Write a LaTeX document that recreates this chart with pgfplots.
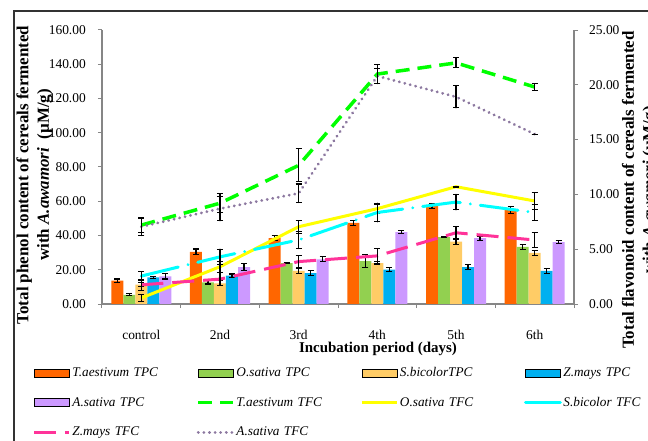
\documentclass[border=0pt]{standalone}
\usepackage{pgfplots}
\pgfplotsset{compat=1.18}
\usepackage{fontspec}
\setmainfont{Liberation Serif}
\definecolor{cA}{HTML}{FF6600}
\definecolor{cB}{HTML}{92D050}
\definecolor{cC}{HTML}{FFCC66}
\definecolor{cD}{HTML}{00B0F0}
\definecolor{cE}{HTML}{CC99FF}
\definecolor{lG}{HTML}{00FF00}
\definecolor{lY}{HTML}{FFFF00}
\definecolor{lC}{HTML}{00FFFF}
\definecolor{lP}{HTML}{FF3399}
\definecolor{lV}{RGB}{140,120,160}
\definecolor{axgray}{HTML}{868686}
\pgfplotsset{
  barleg/.style={legend image code/.code={\fill[##1] (0bp,-4bp) rectangle (35bp,4bp);}},
  lineleg/.style={legend image code/.code={\draw[##1] (0bp,0bp) -- (35bp,0bp);}},
  ebar/.style={error bars/.cd, y dir=both, y explicit,
    error bar style={black, line width=1.1bp, solid},
    error mark options={rotate=90, black, mark size=3bp, line width=1.1bp, solid}},
  common/.style={at={(0,0)}, anchor=south west, scale only axis,
    width=472bp, height=274bp, xmin=-0.5, xmax=5.5,
    axis line style={draw=axgray, line width=1.3bp, -},
    tick align=outside, major tick length=4bp, minor tick length=4bp,
    tick style={draw=axgray, line width=1bp},
    /pgf/number format/assume math mode=true,
    tick label style={font=\fontsize{13.5}{15}\selectfont},
    scaled y ticks=false,
    yticklabel style={/pgf/number format/fixed, /pgf/number format/fixed zerofill, /pgf/number format/precision=2},
    ylabel style={align=center, font=\bfseries\fontsize{17}{20.5}\selectfont, anchor=center}},
}
\begin{document}
\begin{tikzpicture}
\useasboundingbox (-102bp,-137bp) rectangle (546bp,304bp);
\draw[line width=1.2bp, color=black!80] (-88bp,-150bp) -- (-88bp,293bp) -- (560bp,293bp);
\begin{axis}[common,
  ymin=0, ymax=160, ytick={0,20,...,160},
  axis y line*=left, axis x line*=bottom,
  xtick={0,...,5}, xticklabels={control,2nd,3rd,4th,5th,6th},
  minor xtick={-0.5,0.5,1.5,2.5,3.5,4.5,5.5},
  major x tick style={draw=none},
  xticklabel style={anchor=base, inner sep=0pt, yshift=-31bp},
  yticklabel style={anchor=east, inner sep=0pt, xshift=-12bp},
  ybar=0pt, bar width=12bp,
  xlabel={Incubation period (days)},
  xlabel style={at={(axis description cs:0.5847,0)}, anchor=base, yshift=-48bp, font=\bfseries\fontsize{15}{17}\selectfont},
  ylabel={Total phenol content of cereals fermented\\ with \textit{A.awamori}\ \ (µM/g)},
  ylabel style={at={(axis description cs:-0.143,0.471)}},
]
\addplot[fill=cA, draw=none, ebar] coordinates {(0,13.6) +- (0,1.0) (1,30.4) +- (0,1.7) (2,38.5) +- (0,1.5) (3,47.3) +- (0,1.5) (4,57.2) +- (0,1.3) (5,54.9) +- (0,2.2)};
\addplot[fill=cB, draw=none, ebar] coordinates {(0,5.4) +- (0,0.6) (1,12.7) +- (0,1.0) (2,23.9) +- (0,0.5) (3,25.1) +- (0,4.0) (4,39.1) +- (0,0.5) (5,33.3) +- (0,1.5)};
\addplot[fill=cC, draw=none, ebar] coordinates {(0,11.3) +- (0,1.2) (1,12.1) +- (0,1.5) (2,19.3) +- (0,1.5) (3,23.9) +- (0,1.0) (4,36.4) +- (0,1.5) (5,29.8) +- (0,1.4)};
\addplot[fill=cD, draw=none, ebar] coordinates {(0,15.5) +- (0,0.8) (1,16.5) +- (0,1.0) (2,18.1) +- (0,1.2) (3,20.0) +- (0,1.2) (4,21.6) +- (0,1.6) (5,19.3) +- (0,1.6)};
\addplot[fill=cE, draw=none, ebar] coordinates {(0,16.1) +- (0,1.5) (1,21.6) +- (0,2.0) (2,26.1) +- (0,1.5) (3,42.0) +- (0,0.8) (4,38.5) +- (0,1.2) (5,36.2) +- (0,1.0)};
\end{axis}
\begin{axis}[common,
  ymin=0, ymax=25, ytick={0,5,...,25},
  axis y line*=right, axis x line=none,
  yticklabel style={anchor=west, inner sep=0pt, xshift=11bp},
  ylabel={Total flavonoid content of cereals fermented\\ with \textit{A.awamori} (µM/g)},
  ylabel style={at={(axis description cs:1.14,0.416)}},
  legend columns=4, legend cell align=left,
  legend style={at={(-0.1462,-0.2281)}, anchor=north west, draw=none, fill=none,
    inner sep=0pt, outer sep=0pt, row sep=16.5bp,
    nodes={inner sep=0pt, text height=10bp, text depth=3bp, text width=124bp, align=left},
    font=\itshape\fontsize{13.3}{15}\selectfont,
    /tikz/every odd column/.append style={column sep=1.5bp}},
]
\addlegendimage{barleg, fill=cA}\addlegendentry{T.aestivum TPC}
\addlegendimage{barleg, fill=cB}\addlegendentry{O.sativa TPC}
\addlegendimage{barleg, fill=cC}\addlegendentry{S.bicolorTPC}
\addlegendimage{barleg, fill=cD}\addlegendentry{Z.mays TPC}
\addlegendimage{barleg, fill=cE}\addlegendentry{A.sativa TPC}
\addplot[lineleg, color=lG, line width=3.5bp, dash pattern=on 14bp off 8bp, ebar] coordinates {(0,7.2) +- (0,0.65) (1,9.2) +- (0,0.85) (2,12.65) +- (0,1.5) (3,20.98) +- (0,0.9) (4,22.0) +- (0,0.45) (5,19.8) +- (0,0.3)};
\addlegendentry{T.aestivum TFC}
\addplot[lineleg, color=lY, line width=3bp, ebar] coordinates {(0,0.55) +- (0,0.3) (1,3.4) +- (0,0.5) (2,7.05) +- (0,0.6) (3,8.7) +- (0,0.4) (4,10.7) +- (0,0.05) (5,9.4) +- (0,0.8)};
\addlegendentry{O.sativa TFC}
\addplot[lineleg, color=lC, line width=3bp, line cap=round, dash pattern=on 38bp off 10bp on 0.1bp off 10bp, ebar] coordinates {(0,2.55) +- (0,0.4) (1,4.3) +- (0,0.7) (2,5.85) +- (0,0.8) (3,8.35) +- (0,0.85) (4,9.3) +- (0,0.7) (5,8.35) +- (0,0.7)};
\addlegendentry{S.bicolor TFC}
\addplot[lineleg, color=lP, line width=3bp, dash pattern=on 22bp off 9bp, ebar] coordinates {(0,1.75) +- (0,0.5) (1,2.27) +- (0,0.6) (2,3.87) +- (0,0.55) (3,4.39) +- (0,0.7) (4,6.5) +- (0,0.55) (5,5.84) +- (0,0.7)};
\addlegendentry{Z.mays TFC}
\addplot[lineleg, color=lV, line width=3bp, line cap=round, dash pattern=on 0.1bp off 5.5bp, ebar] coordinates {(0,7.05) +- (0,0.8) (1,8.7) +- (0,1.1) (2,10.1) +- (0,0.85) (3,20.8) +- (0,0.7) (4,18.9) +- (0,1.0) (5,15.5) +- (0,0)};
\addlegendentry{A.sativa TFC}
\end{axis}
\end{tikzpicture}
\end{document}
